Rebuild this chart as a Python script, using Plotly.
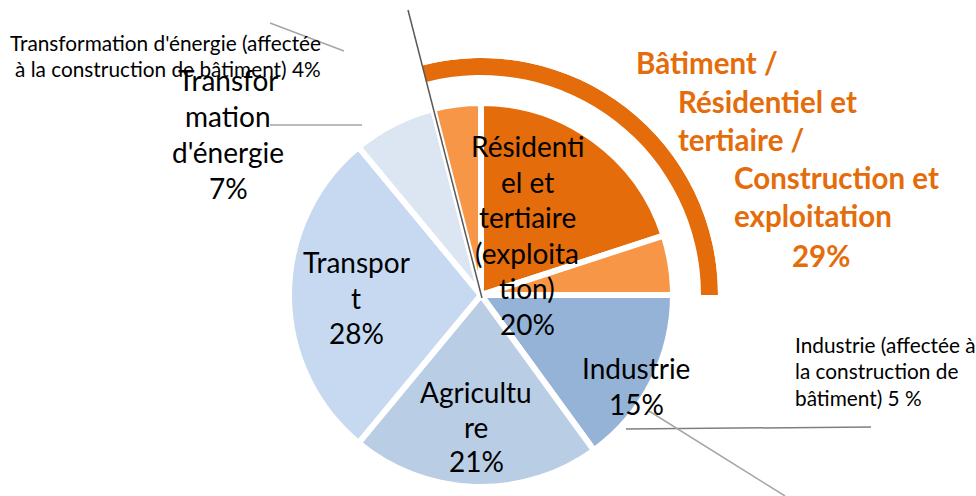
import math
import plotly.graph_objects as go

# ---------------- data ----------------
labels = [
    "Résidentiel et tertiaire (exploitation)",
    "Industrie (affectée à la construction de bâtiment)",
    "Industrie",
    "Agriculture",
    "Transport",
    "Transformation d'énergie",
    "Transformation d'énergie (affectée à la construction de bâtiment)",
]
values = [20, 5, 15, 21, 28, 7, 4]
colors = ["#E46C0A", "#F79646", "#95B3D7", "#B9CDE5", "#C6D9F1", "#DCE6F2", "#F79646"]
building_idx = [6, 0, 1]          # slices counted in "Bâtiment"
building_share = sum(values[i] for i in building_idx)   # 29

# ---------------- layout constants ----------------
W, H = 976, 496
CX, CY = 481, 295          # pie centre (px from top-left)
R_PIE = 192
R_OUT, R_IN = 237, 220     # orange ring
FONT = "Lato"
ORANGE = "#E46C0A"


def px(x):
    return x / W


def py(y):
    return 1 - y / H


fig = go.Figure()

# main pie
fig.add_trace(go.Pie(
    labels=labels, values=values, sort=False, direction="clockwise", rotation=0,
    marker=dict(colors=colors, line=dict(color="white", width=6)),
    textinfo="none", hoverinfo="label+percent", showlegend=False,
    domain=dict(x=[px(CX - R_PIE), px(CX + R_PIE)],
                y=[(H - CY - R_PIE) / H, (H - CY + R_PIE) / H]),
))

# orange ring spanning the building slices (barpolar on a sector polar)
total = sum(values)
start_c = -values[6] / total * 360.0                     # compass deg
end_c = (values[0] + values[1]) / total * 360.0
m_start, m_end = 90 - end_c, 90 - start_c                # math deg
sector = [m_start - 1, m_end + 1]


def sector_bbox(s0, s1):
    pts = [(0.0, 0.0)]
    for a in (s0, s1):
        pts.append((math.cos(math.radians(a)), math.sin(math.radians(a))))
    k = math.ceil(s0 / 90.0)
    while k * 90 <= s1:
        a = k * 90
        pts.append((math.cos(math.radians(a)), math.sin(math.radians(a))))
        k += 1
    xs = [p[0] for p in pts]
    ys = [p[1] for p in pts]
    return min(xs), min(ys), max(xs), max(ys)


bx0, by0, bx1, by1 = sector_bbox(*sector)
fig.add_trace(go.Barpolar(
    r=[R_OUT - R_IN], base=[R_IN], theta=[(start_c + end_c) / 2],
    width=[end_c - start_c], marker=dict(color=ORANGE, line=dict(width=0)),
    showlegend=False, hoverinfo="skip", subplot="polar",
))
fig.update_layout(polar=dict(
    sector=sector,
    domain=dict(x=[px(CX + R_OUT * bx0), px(CX + R_OUT * bx1)],
                y=[py(CY - R_OUT * by0), py(CY - R_OUT * by1)]),
    bgcolor="rgba(0,0,0,0)",
    radialaxis=dict(range=[0, R_OUT], visible=False, showgrid=False),
    angularaxis=dict(direction="clockwise", rotation=90, visible=False, showgrid=False),
))

annotations = []


def add_lines(lines, x, y0, dy, size, color="black", bold=False, anchor="center"):
    for i, t in enumerate(lines):
        annotations.append(dict(
            x=px(x), y=py(y0 + i * dy), xref="paper", yref="paper",
            text=("<b>%s</b>" % t) if bold else t, showarrow=False,
            xanchor=anchor, yanchor="middle",
            font=dict(family=FONT, size=size, color=color)))


# in-slice labels
add_lines(["Résidenti", "el et", "tertiaire", "(exploita", "tion)", "%d%%" % values[0]],
          527, 146, 35.6, 28)
add_lines(["Industrie", "%d%%" % values[2]], 636, 368, 36, 28)
add_lines(["Agricultu", "re", "%d%%" % values[3]], 476, 392, 34.5, 28)
add_lines(["Transpor", "t", "%d%%" % values[4]], 356, 262, 35.5, 28)
add_lines(["Transfor", "mation", "d'énergie", "%d%%" % values[5]], 228, 80, 36, 28)

# small outside labels
add_lines(["Transformation d'énergie (affectée",
           "à la construction de bâtiment) %d%%" % values[6]],
          323, 42, 26, 20.8, anchor="right")
add_lines(["Industrie (affectée à", "la construction de",
           "bâtiment) %d %%" % values[1]], 793, 344, 26.5, 20.8, anchor="left")

# orange title
title_lines = [("Bâtiment /", 634, 62), ("Résidentiel et", 676, 101),
               ("tertiaire /", 676, 139), ("Construction et", 732, 177),
               ("exploitation", 732, 215), ("%d%%" % building_share, 790, 255)]
for t, x, y in title_lines:
    add_lines([t], x, y, 0, 29.5, color=ORANGE, bold=True, anchor="left")

# leader lines
leaders = [
    ((270, 125), (362, 125), "#A6A6A6", 1.5),
    ((408, 10), (482, 298), "#595959", 1.5),
    ((270, 23), (344, 51), "#A6A6A6", 1.5),
    ((626, 429), (871, 427), "#7F7F7F", 1.5),
    ((649, 411), (785, 496), "#A6A6A6", 1.5),
]
shapes = [dict(type="line", xref="paper", yref="paper",
               x0=px(a[0]), y0=py(a[1]), x1=px(b[0]), y1=py(b[1]),
               line=dict(color=c, width=w)) for a, b, c, w in leaders]

fig.update_layout(
    width=W, height=H, margin=dict(l=0, r=0, t=0, b=0),
    paper_bgcolor="white", plot_bgcolor="white", showlegend=False,
    annotations=annotations, shapes=shapes,
)

fig.write_html("out.html", config={"displayModeBar": False},
               post_script="document.body.style.margin='0';")
